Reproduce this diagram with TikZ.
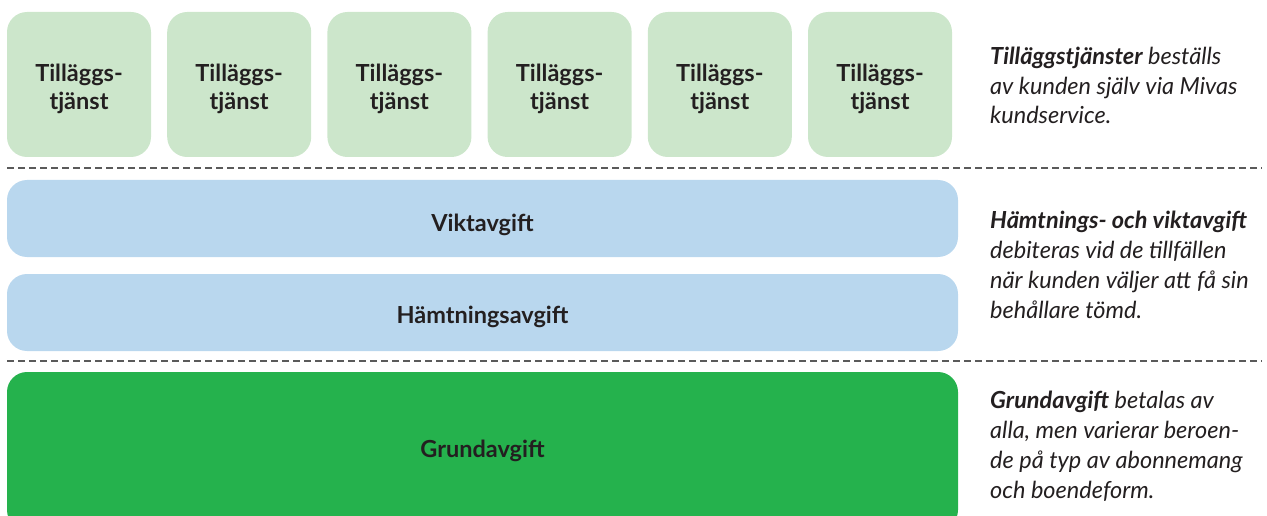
\documentclass[tikz,border=0pt]{standalone}
\usepackage{fontspec}
\setmainfont{Lato}
\definecolor{tillgreen}{HTML}{CCE6CB}
\definecolor{avgblue}{HTML}{B9D7EE}
\definecolor{grundgreen}{HTML}{25B24D}
\definecolor{textdark}{HTML}{231F20}
\definecolor{dashgray}{HTML}{5A5A5A}

\begin{document}
\begin{tikzpicture}[x=1pt,y=-1pt,
    feebox/.style={rounded corners=20pt,inner sep=0pt},
    feetext/.style={anchor=base,inner sep=0pt,text=textdark,align=center,
        font=\fontsize{23.5}{28}\selectfont\bfseries},
    note/.style={anchor=base west,inner sep=0pt,text=textdark,align=left,
        font=\fontsize{23.5}{29.7}\selectfont\itshape},
    sep/.style={dashgray,line width=1.2pt,dash pattern=on 7pt off 4pt}]
    \useasboundingbox (0,0) rectangle (1267,516);
    % tillaggstjanster
    \foreach \i in {0,...,5}{
        \node[feebox,fill=tillgreen,minimum width=144pt,minimum height=145pt]
            (till\i) at ({79+160.2*\i},84.5) {};
        \node[feetext] (tilltext\i) at ({79+160.2*\i},110) {Tilläggs-\\tjänst};
    }
    \node[note] (tillnote) at (990,124) {\textbf{Tilläggstjänster} beställs\\av kunden själv via Mivas\\kundservice.};
    % avgifter
    \node[feebox,fill=avgblue,minimum width=951pt,minimum height=77pt]
        (vikt) at (482.5,218.5) {};
    \node[feetext] (vikttext) at (482.5,231) {Viktavgift};
    \node[feebox,fill=avgblue,minimum width=951pt,minimum height=77pt]
        (hamt) at (482.5,312.5) {};
    \node[feetext] (hamttext) at (482.5,323) {Hämtningsavgift};
    \node[note] (hamtnote) at (990,318) {\textbf{Hämtnings- och viktavgift}\\debiteras vid de tillfällen\\när kunden väljer att få sin\\behållare tömd.};
    \node[feebox,fill=grundgreen,minimum width=951pt,minimum height=158pt]
        (grund) at (482.5,451) {};
    \node[feetext] (grundtext) at (482.5,457) {Grundavgift};
    \node[note] (grundnote) at (990,498) {\textbf{Grundavgift} betalas av\\alla, men varierar beroen-\\de på typ av abonnemang\\och boendeform.};
    % dashed separators
    \coordinate (sepa) at (7,168);
    \coordinate (sepb) at (7,361);
    \draw[sep] (sepa) -- ++(1255,0);
    \draw[sep] (sepb) -- ++(1255,0);
\end{tikzpicture}
\end{document}
